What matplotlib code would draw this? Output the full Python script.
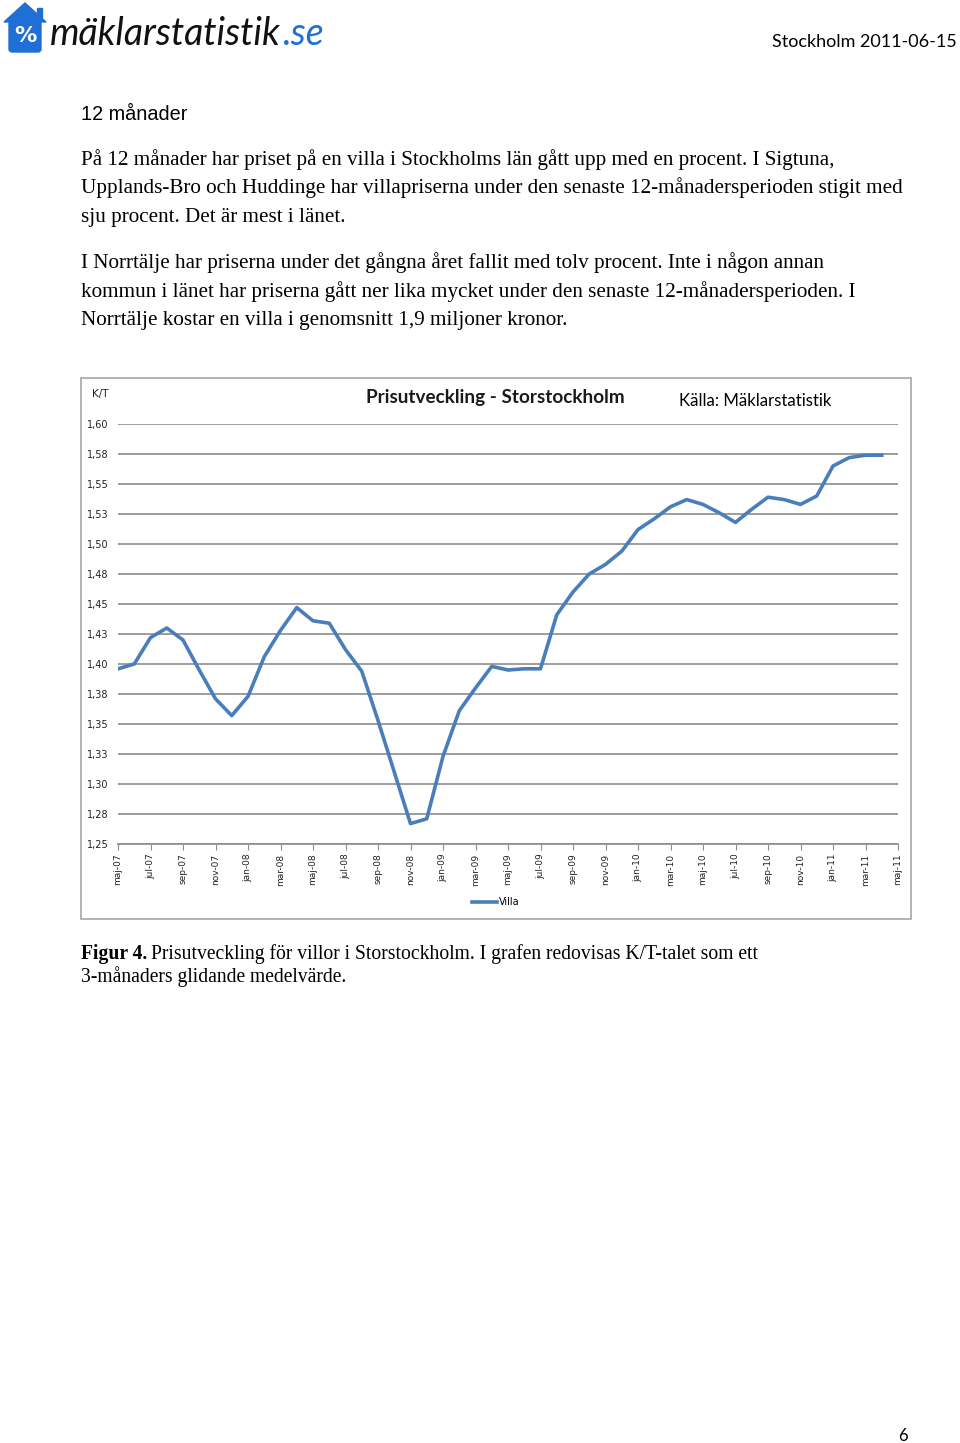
import numpy as np
import matplotlib
matplotlib.use('Agg')
import matplotlib.pyplot as plt
from matplotlib.patches import Rectangle, Polygon, FancyBboxPatch
from matplotlib.lines import Line2D

# Chart data: K/T ratio for villas, 3-month moving average
months = ['maj-07', 'jun-07', 'jul-07', 'aug-07', 'sep-07', 'okt-07', 'nov-07', 'dec-07',
          'jan-08', 'feb-08', 'mar-08', 'apr-08', 'maj-08', 'jun-08', 'jul-08', 'aug-08',
          'sep-08', 'okt-08', 'nov-08', 'dec-08', 'jan-09', 'feb-09', 'mar-09', 'apr-09',
          'maj-09', 'jun-09', 'jul-09', 'aug-09', 'sep-09', 'okt-09', 'nov-09', 'dec-09',
          'jan-10', 'feb-10', 'mar-10', 'apr-10', 'maj-10', 'jun-10', 'jul-10', 'aug-10',
          'sep-10', 'okt-10', 'nov-10', 'dec-10', 'jan-11', 'feb-11', 'mar-11', 'apr-11',
          'maj-11']
villa = [1.396, 1.400, 1.422, 1.430, 1.420, 1.395, 1.371, 1.357,
         1.373, 1.406, 1.428, 1.447, 1.436, 1.434, 1.412, 1.394,
         1.353, 1.310, 1.267, 1.271, 1.323, 1.361, 1.380, 1.398,
         1.395, 1.396, 1.396, 1.441, 1.460, 1.475, 1.483, 1.494,
         1.512, 1.521, 1.531, 1.537, 1.533, 1.526, 1.518, 1.529,
         1.539, 1.537, 1.533, 1.540, 1.565, 1.572, 1.574, 1.574,
         np.nan]
y_ticks = [1.25, 1.275, 1.30, 1.325, 1.35, 1.375, 1.40, 1.425, 1.45, 1.475,
           1.50, 1.525, 1.55, 1.575, 1.60]
y_labels = ['1,25', '1,28', '1,30', '1,33', '1,35', '1,38', '1,40', '1,43', '1,45', '1,48',
            '1,50', '1,53', '1,55', '1,58', '1,60']

para1 = ['På 12 månader har priset på en villa i Stockholms län gått upp med en procent. I Sigtuna,',
         'Upplands-Bro och Huddinge har villapriserna under den senaste 12-månadersperioden stigit med',
         'sju procent. Det är mest i länet.']
para2 = ['I Norrtälje har priserna under det gångna året fallit med tolv procent. Inte i någon annan',
         'kommun i länet har priserna gått ner lika mycket under den senaste 12-månadersperioden. I',
         'Norrtälje kostar en villa i genomsnitt 1,9 miljoner kronor.']

W, H = 960, 1443
fig = plt.figure(figsize=(W / 100, H / 100), dpi=100)
fig.patch.set_facecolor('white')

# page layer in pixel coordinates
page = fig.add_axes([0, 0, 1, 1])
page.set_xlim(0, W)
page.set_ylim(H, 0)
page.axis('off')

# logo
blue = '#1f6fd6'
page.add_patch(Polygon([[4, 22], [25, 3], [46, 22]], closed=True, color=blue))
page.add_patch(Rectangle((37, 8), 5, 10, color=blue))
page.add_patch(FancyBboxPatch((9, 20), 32, 32, boxstyle='round,pad=0,rounding_size=3', color=blue))
page.text(25, 36, '%', color='white', fontsize=16, fontweight='bold', family='DejaVu Sans',
          ha='center', va='center')
t = page.text(50, 45, 'mäklarstatistik', fontsize=27, family='Lato', style='italic',
              color='#111111', va='baseline')
fig.canvas.draw()
bb = t.get_window_extent()
page.text(50 + bb.width + 1, 45, '.se', fontsize=27, family='Lato', style='italic',
          color=blue, va='baseline')

page.text(957, 47, 'Stockholm 2011-06-15', fontsize=13, family='Lato', ha='right', va='baseline')

page.text(81, 120, '12 månader', fontsize=14.3, family='Liberation Sans', va='baseline')

serif = 'Liberation Serif'
for i, line in enumerate(para1):
    page.text(81, 165 + i * 28.5, line, fontsize=15.2, family=serif, va='baseline')
for i, line in enumerate(para2):
    page.text(81, 268 + i * 28.5, line, fontsize=15.2, family=serif, va='baseline')

# chart frame
page.add_patch(Rectangle((80.5, 377.5), 830, 541, fill=False, edgecolor='#a6a6a6', lw=1.2))

# chart
ax = fig.add_axes([118 / W, 1 - 844 / H, 780 / W, 420 / H])
ax.set_facecolor('none')
x = np.arange(len(months))
ax.plot(x, villa, color='#4a7ebb', lw=2.6, solid_joinstyle='round', label='Villa')
ax.set_xlim(0, len(months) - 1)
ax.set_ylim(1.25, 1.60)
ax.set_yticks(y_ticks)
ax.set_yticklabels(y_labels)
ax.set_xticks(x[::2])
ax.set_xticklabels(months[::2], rotation=90)
ax.yaxis.grid(True, color='#8c8c8c', lw=1.2)
ax.set_axisbelow(True)
for s in ['top', 'right', 'left']:
    ax.spines[s].set_visible(False)
ax.spines['bottom'].set_color('#8c8c8c')
ax.spines['bottom'].set_linewidth(1.2)
ax.tick_params(axis='y', length=0, pad=7, labelsize=7, labelcolor='#222222')
ax.tick_params(axis='x', length=4, color='#8c8c8c', pad=3, labelsize=6.5, labelcolor='#222222')

page.text(100, 394, 'K/T', fontsize=7.5, ha='center', va='center', color='#222222')
page.text(495, 398, 'Prisutveckling - Storstockholm', fontsize=13.6, family='Lato',
          fontweight='bold', ha='center', va='center', color='#1a1a1a')
page.text(679, 401, 'Källa: Mäklarstatistik', fontsize=12.1, family='Lato', ha='left', va='center')

fig.legend(handles=[Line2D([], [], color='#4a7ebb', lw=2.6)], labels=['Villa'],
           loc='center', bbox_to_anchor=(496 / W, 1 - 902 / H), frameon=False,
           fontsize=7, handlelength=2.6, handletextpad=0.2)

# caption
cap = page.text(81, 959, 'Figur 4.', fontsize=14.1, family=serif, fontweight='bold', va='baseline')
fig.canvas.draw()
cw = cap.get_window_extent().width
page.text(81 + cw + 4, 959, 'Prisutveckling för villor i Storstockholm. I grafen redovisas K/T-talet som ett',
          fontsize=14.1, family=serif, va='baseline')
page.text(81, 982, '3-månaders glidande medelvärde.', fontsize=14.1, family=serif, va='baseline')

page.text(903, 1441, '6', fontsize=12, family='Lato', ha='center', va='baseline')

fig.savefig('out.png', dpi=100, facecolor='white')
